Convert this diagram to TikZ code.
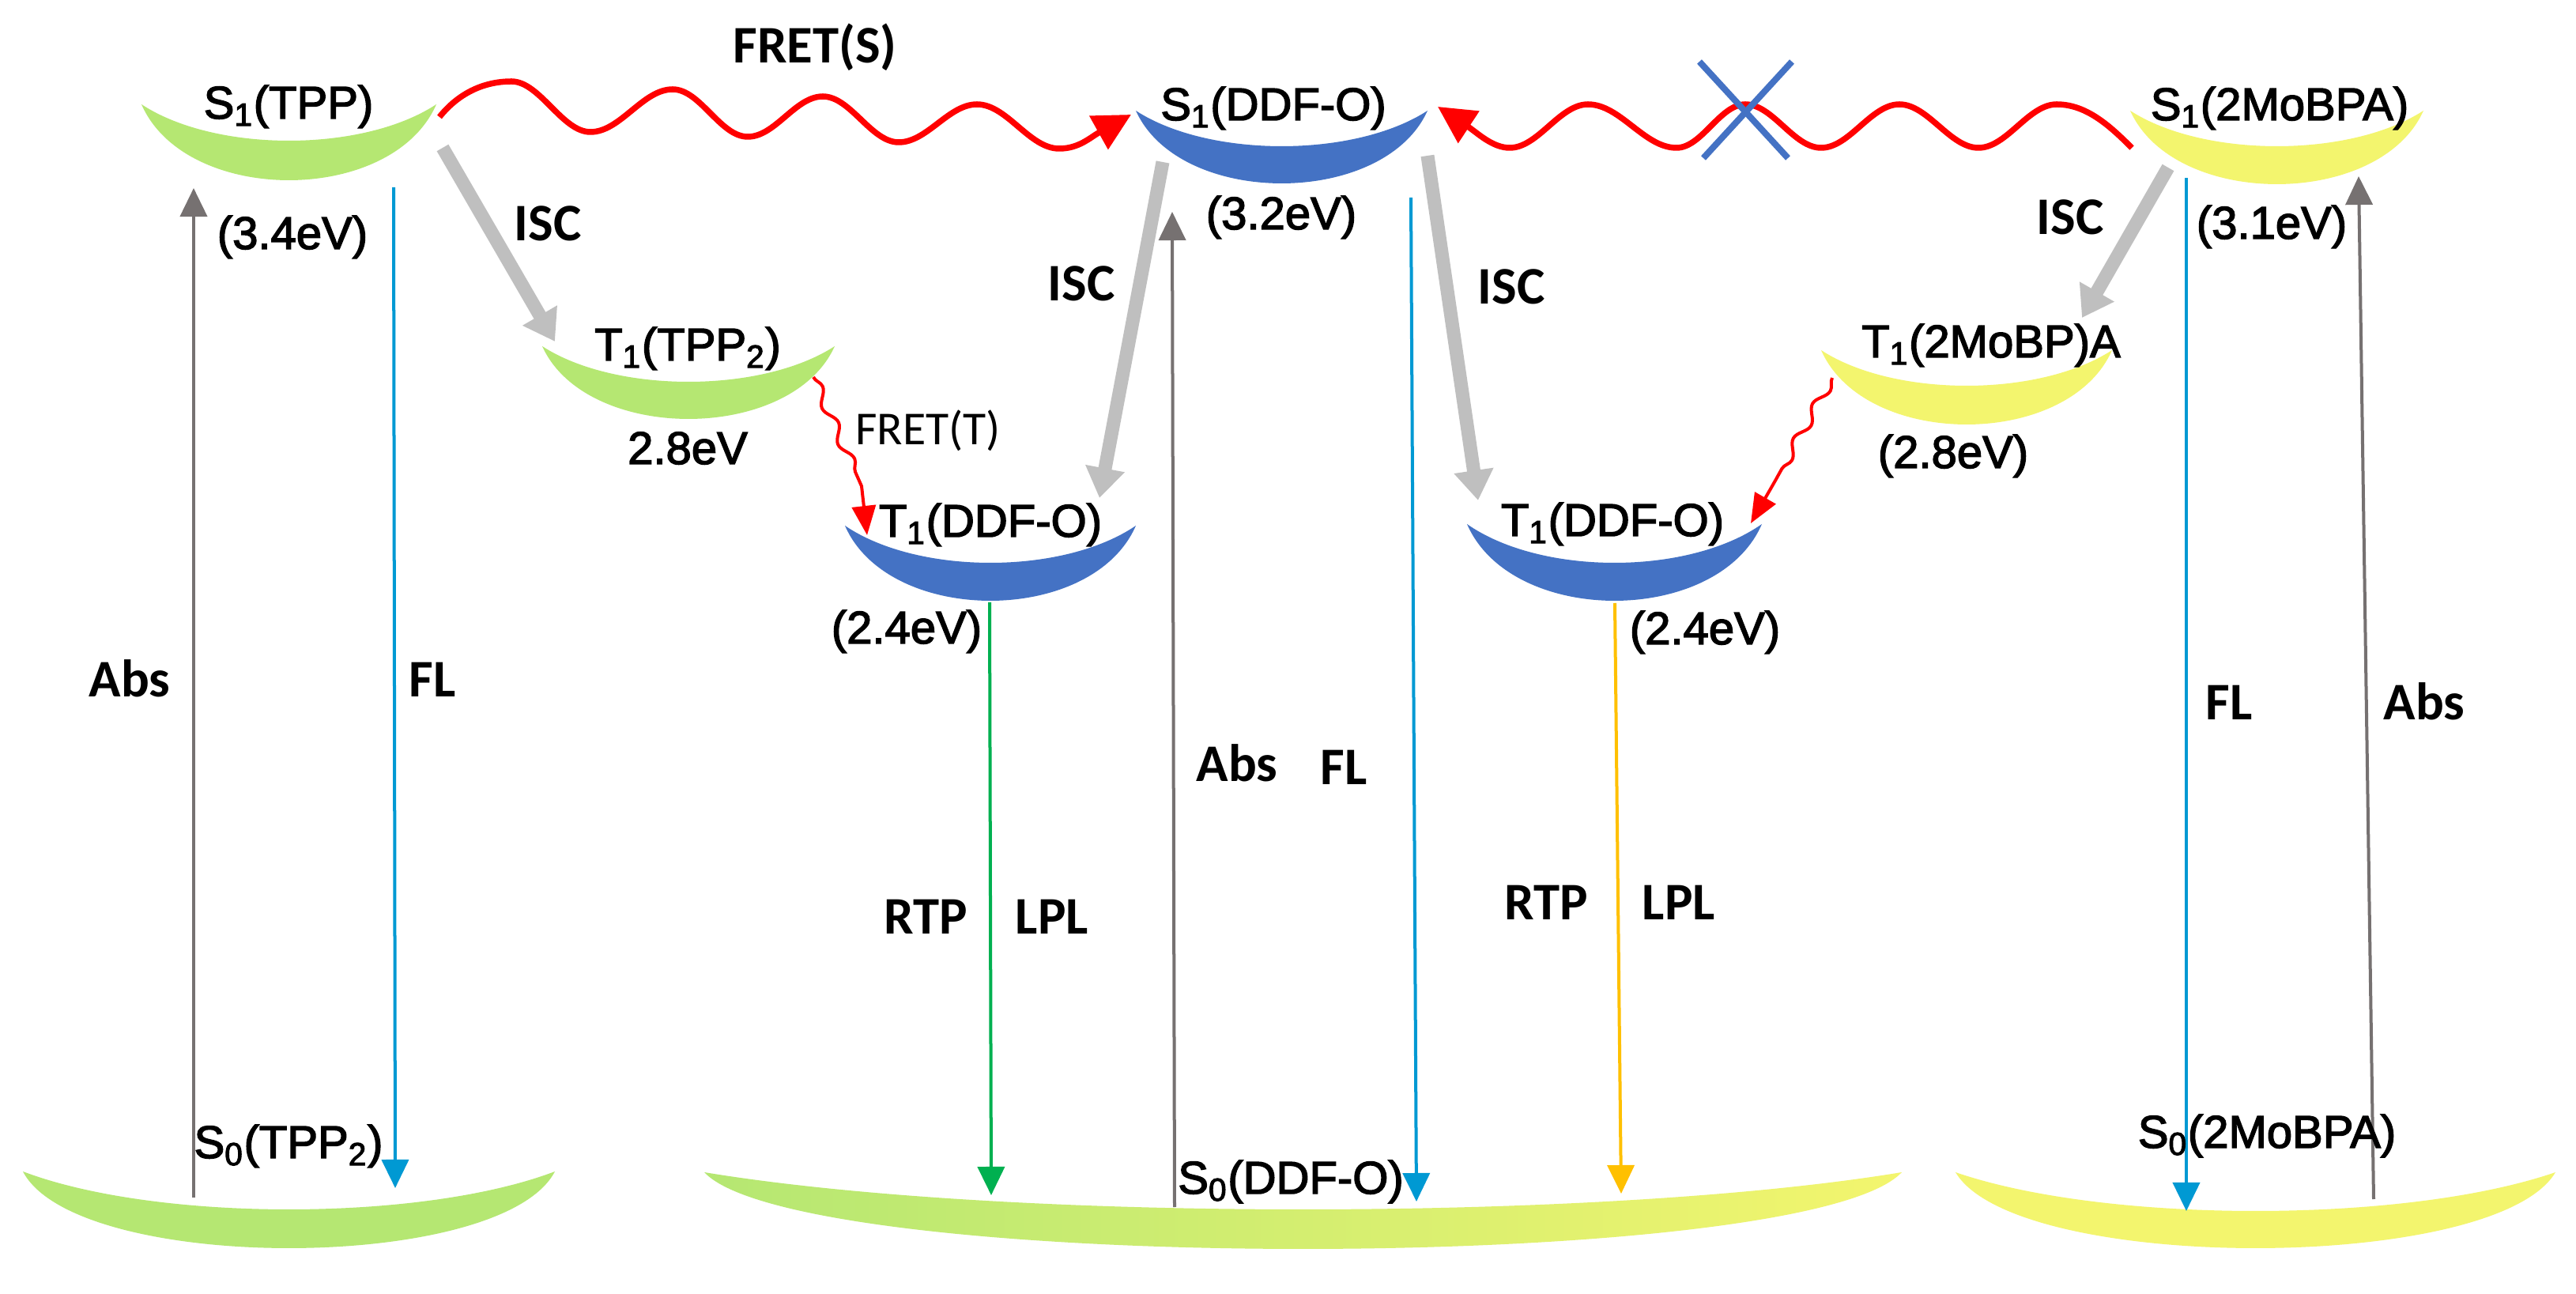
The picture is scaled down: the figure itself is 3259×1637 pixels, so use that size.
\documentclass[tikz,border=0pt]{standalone}
\usepackage{fontspec}
\setmainfont{Liberation Sans}
\newfontfamily\statefont[FakeBold=2.5]{Liberation Sans}
\newfontfamily\califont{Carlito}
\usetikzlibrary{arrows.meta,decorations.pathmorphing}
\definecolor{cgreen}{RGB}{181,231,114}
\definecolor{cyellow}{RGB}{243,245,110}
\definecolor{cblue}{RGB}{68,114,196}
\definecolor{cred}{RGB}{255,0,0}
\definecolor{cisc}{RGB}{191,191,191}
\definecolor{cabs}{RGB}{118,113,113}
\definecolor{cfl}{RGB}{0,153,211}
\definecolor{crtp}{RGB}{0,176,80}
\definecolor{corange}{RGB}{255,192,0}
% name, x0, y0, width, inner sag, outer sag, outer ctrl frac, inner ctrl frac, fill options
\newcommand{\moonshape}[9]{%
  \path[#9] (#2,#3) .. controls ({#2+#7*#4},{#3+1.333*#6}) and ({#2+(1-#7)*#4},{#3+1.333*#6}) .. ({#2+#4},#3)
    .. controls ({#2+(1-#8)*#4},{#3+1.333*#5}) and ({#2+#8*#4},{#3+1.333*#5}) .. cycle;
  \coordinate (#1) at ({#2+0.5*#4},{#3+0.5*(#5+#6)});
}
\begin{document}
\begin{tikzpicture}[x=0.01cm,y=-0.01cm,
  lbl/.style={font=\statefont\fontsize{16.5}{18}\selectfont, inner sep=0pt, anchor=base},
  clbl/.style={font=\califont\bfseries\fontsize{19}{21}\selectfont, inner sep=0pt, anchor=base},
  tlbl/.style={font=\califont\fontsize{17}{19}\selectfont, inner sep=0pt, anchor=base},
  thinarr/.style={line width=0.04cm, -{Triangle[length=0.36cm,width=0.34cm]}},
  iscarr/.style={draw=cisc, line width=0.17cm, -{Triangle[length=0.38cm,width=0.48cm]}},
  fretS/.style={draw=cred, line width=0.075cm, -{Triangle[length=0.47cm,width=0.47cm]}},
  fretT/.style={draw=cred, line width=0.04cm, decoration={snake,segment length=0.5cm,amplitude=0.06cm}, -{Triangle[length=0.37cm,width=0.3cm]}},
  cross/.style={draw=cblue, line width=0.08cm}]
\useasboundingbox (0,0) rectangle (3259,1637);
\fill[white] (0,0) rectangle (3259,1637);

% ---- crescents (energy levels)
\moonshape{s1tpp}{179}{132}{373}{46}{96}{0.15}{0.25}{fill=cgreen}
\moonshape{s1ddf}{1437}{140}{369}{45}{92}{0.15}{0.25}{fill=cblue}
\moonshape{s1mob}{2695}{140}{371}{45}{93}{0.15}{0.25}{fill=cyellow}
\moonshape{t1tpp}{686}{438}{370}{45}{92}{0.15}{0.25}{fill=cgreen}
\moonshape{t1ddfL}{1069}{665}{368}{47}{95}{0.15}{0.25}{fill=cblue}
\moonshape{t1ddfR}{1856}{663}{373}{49}{97}{0.15}{0.25}{fill=cblue}
\moonshape{t1mob}{2304}{443}{368}{45}{94}{0.15}{0.25}{fill=cyellow}
\moonshape{s0tpp}{29}{1482}{673}{48}{97}{0.10}{0.25}{fill=cgreen}
\moonshape{s0ddf}{891}{1483}{1515}{47}{97}{0.08}{0.25}{left color=cgreen,right color=cyellow}
\moonshape{s0mob}{2474}{1483}{759}{49}{96}{0.10}{0.25}{fill=cyellow}

% ---- connector end points
\coordinate (absL0) at (245,1515); \coordinate (absL1) at (245,238);
\coordinate (flL0) at (498,237);   \coordinate (flL1) at (500,1503);
\coordinate (absM0) at (1486,1527); \coordinate (absM1) at (1483,268);
\coordinate (flM0) at (1785,250);  \coordinate (flM1) at (1792,1520);
\coordinate (rtpL0) at (1252,762); \coordinate (rtpL1) at (1254,1512);
\coordinate (rtpR0) at (2043,763); \coordinate (rtpR1) at (2051,1510);
\coordinate (flR0) at (2766,225);  \coordinate (flR1) at (2766,1532);
\coordinate (absR0) at (3003,1517); \coordinate (absR1) at (2984,223);
\coordinate (isc1a) at (560,187);  \coordinate (isc1b) at (702,432);
\coordinate (isc2a) at (1471,205); \coordinate (isc2b) at (1391,630);
\coordinate (isc3a) at (1806,197); \coordinate (isc3b) at (1870,633);
\coordinate (isc4a) at (2743,212); \coordinate (isc4b) at (2634,402);
\coordinate (fs0) at (556,148);    \coordinate (fs1) at (1431,145);
\coordinate (fr0) at (2697,187);   \coordinate (fr1) at (1819,135);
\coordinate (ftL0) at (1029,477);  \coordinate (ftL1) at (1090,615); \coordinate (ftL2) at (1097,677);
\coordinate (ftR0) at (2318,478);  \coordinate (ftR1) at (2246,608); \coordinate (ftR2) at (2215,662);
\coordinate (x1a) at (2150,78);    \coordinate (x1b) at (2262,200);
\coordinate (x2a) at (2267,78);    \coordinate (x2b) at (2155,200);

% ---- thin vertical transitions
\draw[thinarr, draw=cabs] (absL0) -- (absL1);
\draw[thinarr, draw=cfl] (flL0) -- (flL1);
\draw[thinarr, draw=cabs] (absM0) -- (absM1);
\draw[thinarr, draw=cfl] (flM0) -- (flM1);
\draw[thinarr, draw=crtp] (rtpL0) -- (rtpL1);
\draw[thinarr, draw=corange] (rtpR0) -- (rtpR1);
\draw[thinarr, draw=cfl] (flR0) -- (flR1);
\draw[thinarr, draw=cabs] (absR0) -- (absR1);

% ---- ISC arrows
\draw[iscarr] (isc1a) -- (isc1b);
\draw[iscarr] (isc2a) -- (isc2b);
\draw[iscarr] (isc3a) -- (isc3b);
\draw[iscarr] (isc4a) -- (isc4b);

% ---- FRET(S) waves
\draw[fretS] (fs0) .. controls (580,118) and (612,103) .. (647,103)
  .. controls (683,103) and (711,167) .. (747,167)
  .. controls (785,167) and (813,113) .. (851,113)
  .. controls (886,113) and (911,173) .. (946,173)
  .. controls (981,173) and (1006,122) .. (1041,122)
  .. controls (1076,122) and (1102,180) .. (1137,180)
  .. controls (1173,180) and (1200,132) .. (1236,132)
  .. controls (1274,132) and (1302,188) .. (1340,188)
  .. controls (1365,188) and (1379,174) .. (fs1);
\draw[fretS] (fr0) .. controls (2670,160) and (2640,132) .. (2602,132)
  .. controls (2566,132) and (2539,187) .. (2503,187)
  .. controls (2467,187) and (2439,132) .. (2403,132)
  .. controls (2367,132) and (2340,187) .. (2304,187)
  .. controls (2269,187) and (2243,132) .. (2208,132)
  .. controls (2176,132) and (2153,187) .. (2121,187)
  .. controls (2080,187) and (2050,132) .. (2009,132)
  .. controls (1973,132) and (1946,187) .. (1910,187)
  .. controls (1888,187) and (1869,168) .. (fr1);
\draw[cross] (x1a) -- (x1b);
\draw[cross] (x2a) -- (x2b);

% ---- FRET(T) waves
\draw[fretT] (ftL0) decorate {-- (ftL1)} -- (ftL2);
\draw[fretT] (ftR0) decorate {-- (ftR1)} -- (ftR2);

% ---- state labels
\node[lbl] (ls1tpp) at (365,150) {S\textsubscript{1}(TPP)};
\node[lbl] (ls1ddf) at (1611,152) {S\textsubscript{1}(DDF-O)};
\node[lbl] (ls1mob) at (2884,152) {S\textsubscript{1}(2MoBPA)};
\node[lbl] (e34) at (370,315) {(3.4eV)};
\node[lbl] (e32) at (1621,290) {(3.2eV)};
\node[lbl] (e31) at (2874,302) {(3.1eV)};
\node[lbl] (lt1tpp) at (870,456) {T\textsubscript{1}(TPP\textsubscript{2})};
\node[lbl] (e28L) at (870,587) {2.8eV};
\node[lbl] (lt1ddfL) at (1253,679) {T\textsubscript{1}(DDF-O)};
\node[lbl] (e24L) at (1147,814) {(2.4eV)};
\node[lbl] (lt1ddfR) at (2040,678) {T\textsubscript{1}(DDF-O)};
\node[lbl] (e24R) at (2157,815) {(2.4eV)};
\node[lbl] (lt1mob) at (2519,452) {T\textsubscript{1}(2MoBP)A};
\node[lbl] (e28R) at (2471,592) {(2.8eV)};
\node[lbl] (ls0tpp) at (365,1465) {S\textsubscript{0}(TPP\textsubscript{2})};
\node[lbl] (ls0ddf) at (1633,1510) {S\textsubscript{0}(DDF-O)};
\node[lbl] (ls0mob) at (2868,1452) {S\textsubscript{0}(2MoBPA)};

% ---- process labels
\node[clbl] (lfrets) at (1031,80) {FRET(S)};
\node[tlbl] (lfrett) at (1174,563) {FRET(T)};
\node[clbl] (lisc1) at (693,305) {ISC};
\node[clbl] (lisc2) at (1368,381) {ISC};
\node[clbl] (lisc3) at (1912,385) {ISC};
\node[clbl] (lisc4) at (2619,297) {ISC};
\node[clbl] (labsL) at (164,882) {Abs};
\node[clbl] (lflL) at (547,882) {FL};
\node[clbl] (labsM) at (1565,989) {Abs};
\node[clbl] (lflM) at (1700,993) {FL};
\node[clbl] (lrtpL) at (1171,1182) {RTP};
\node[clbl] (llplL) at (1331,1182) {LPL};
\node[clbl] (lrtpR) at (1956,1164) {RTP};
\node[clbl] (llplR) at (2124,1164) {LPL};
\node[clbl] (lflR) at (2820,911) {FL};
\node[clbl] (labsR) at (3067,911) {Abs};
\end{tikzpicture}
\end{document}
